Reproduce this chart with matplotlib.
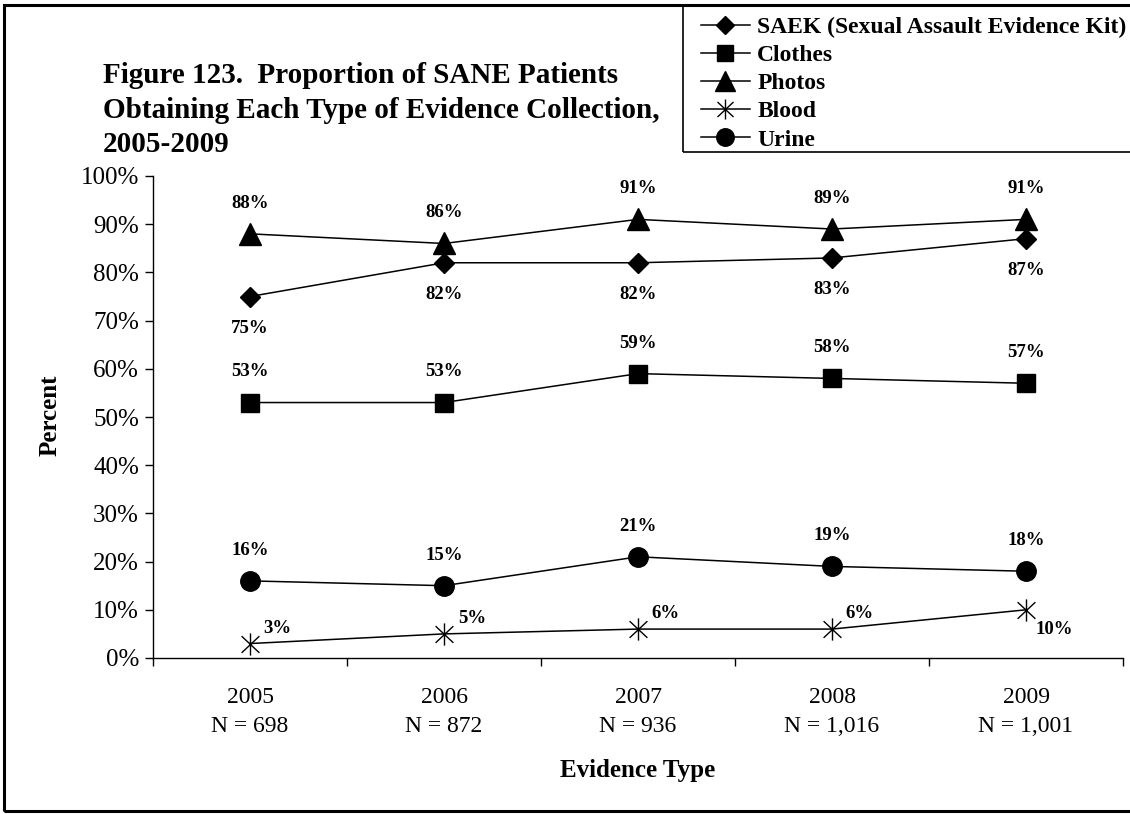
import matplotlib
matplotlib.use("Agg")
import matplotlib.pyplot as plt
from matplotlib.patches import Rectangle
from matplotlib.path import Path

plt.rcParams['font.family'] = ['Liberation Serif', 'DejaVu Serif']

years = ["2005", "2006", "2007", "2008", "2009"]
n_values = ["698", "872", "936", "1,016", "1,001"]
saek = [75, 82, 82, 83, 87]
clothes = [53, 53, 59, 58, 57]
photos = [88, 86, 91, 89, 91]
blood = [3, 5, 6, 6, 10]
urine = [16, 15, 21, 19, 18]

W, H = 1130, 814
fig = plt.figure(figsize=(W / 100, H / 100), dpi=100)

def fx(px):
    return px / W

def fy(py):
    return 1 - py / H

ax = fig.add_axes([fx(153), fy(658), fx(1123) - fx(153), fy(176) - fy(658)])

x = list(range(len(years)))
asterisk = Path([(0, -1), (0, 1), (-0.8, -0.75), (0.8, 0.75), (-0.8, 0.75), (0.8, -0.75)],
                [Path.MOVETO, Path.LINETO, Path.MOVETO, Path.LINETO, Path.MOVETO, Path.LINETO])

series = [
    ("SAEK (Sexual Assault Evidence Kit)", saek, dict(marker='D', markersize=9.7)),
    ("Clothes", clothes, dict(marker='s', markersize=13.5)),
    ("Photos", photos, dict(marker='^', markersize=15.5)),
    ("Blood", blood, dict(marker=asterisk, markersize=16, markeredgewidth=1.0)),
    ("Urine", urine, dict(marker='o', markersize=14)),
]
handles = []
for name, vals, st in series:
    ln, = ax.plot(x, vals, color='black', linewidth=1.1, markerfacecolor='black',
                  markeredgecolor='black', label=name, **st)
    handles.append(ln)

lab_kw = dict(fontsize=13.5, fontweight='bold', ha='center', va='center', color='black')
for i, v in enumerate(saek):
    ax.annotate(f"{v}%", (i, v), xytext=(0, -23), textcoords='offset points', **lab_kw)
for i, v in enumerate(photos):
    ax.annotate(f"{v}%", (i, v), xytext=(0, 22), textcoords='offset points', **lab_kw)
for i, v in enumerate(clothes):
    ax.annotate(f"{v}%", (i, v), xytext=(0, 22), textcoords='offset points', **lab_kw)
for i, v in enumerate(urine):
    ax.annotate(f"{v}%", (i, v), xytext=(0, 22), textcoords='offset points', **lab_kw)
for i, v in enumerate(blood):
    dy = -14 if i == len(blood) - 1 else 11
    ax.annotate(f"{v}%", (i, v), xytext=(20, dy), textcoords='offset points', **lab_kw)

ax.set_xlim(-0.5, len(years) - 0.5)
ax.set_ylim(0, 100)
ax.set_yticks(range(0, 101, 10))
ax.set_yticklabels([f"{t}%" for t in range(0, 101, 10)], fontsize=18)
ax.set_xticks(x)
ax.set_xticklabels([f"{y}\nN = {n}" for y, n in zip(years, n_values)], fontsize=17,
                   linespacing=1.5)
ax.tick_params(axis='x', which='major', length=0, pad=21)
ax.set_xticks([i - 0.5 for i in range(len(years) + 1)], minor=True)
ax.tick_params(axis='x', which='minor', length=6, width=1, direction='out')
ax.tick_params(axis='y', length=6, width=1, direction='out', pad=4)
for s in ['top', 'right']:
    ax.spines[s].set_visible(False)
for s in ['left', 'bottom']:
    ax.spines[s].set_linewidth(1)

fig.text(fx(50), fy(415), "Percent", rotation=90, fontsize=18, fontweight='bold',
         ha='center', va='center')
fig.text(fx(638), fy(770), "Evidence Type", fontsize=18, fontweight='bold',
         ha='center', va='center')

fig.text(fx(103), fy(110), "Figure 123.  Proportion of SANE Patients\n"
         "Obtaining Each Type of Evidence Collection,\n2005-2009",
         fontsize=21, fontweight='bold', ha='left', va='center', linespacing=1.37)

# outer frame
fig.patches.append(Rectangle((fx(4), fy(811)), fx(1140) - fx(4), fy(5) - fy(811),
                             transform=fig.transFigure, fill=False, edgecolor='black',
                             linewidth=2.2, clip_on=False))
# legend frame
fig.patches.append(Rectangle((fx(683), fy(152)), fx(1140) - fx(683), fy(5) - fy(152),
                             transform=fig.transFigure, fill=False, edgecolor='black',
                             linewidth=1.2, clip_on=False))

leg = fig.legend(handles=handles, loc='upper left', bbox_to_anchor=(fx(684), fy(0)),
                 frameon=False, prop=dict(family='Liberation Serif', weight='bold', size=17),
                 handlelength=2.1, handletextpad=0.3, labelspacing=0.28, borderpad=0.2,
                 markerscale=0.9)

fig.savefig("out.png", dpi=100)
